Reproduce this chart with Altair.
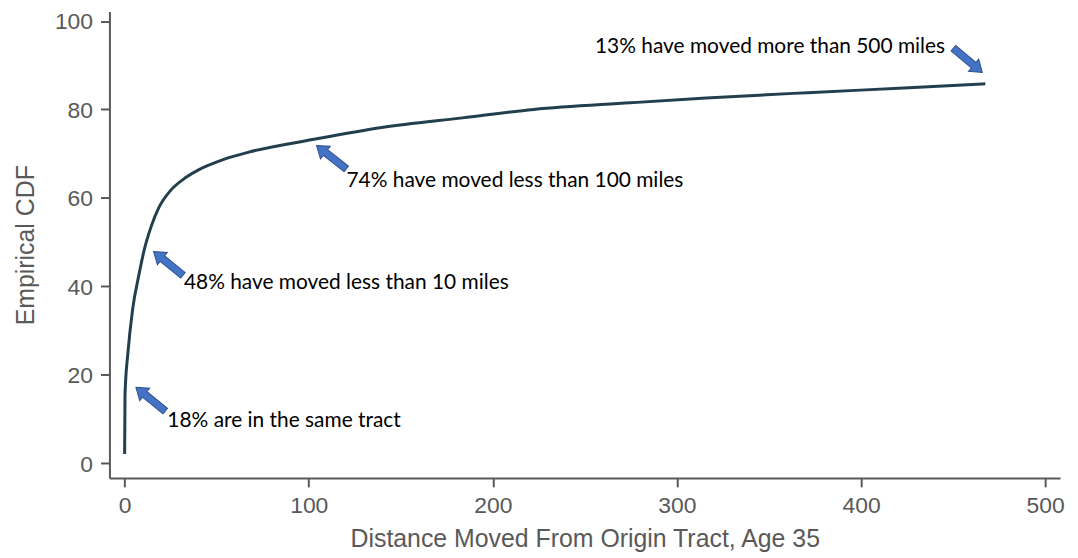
import altair as alt
import pandas as pd

# CDF curve
distance = [0, 0.2, 0.5, 1.6, 4.3, 7.9, 10.6, 14.3, 18.7, 25, 33.2, 40.4, 45.7, 55, 67.9,
            103.7, 139.6, 183.6, 222.2, 274.6, 315.9, 371, 426, 467.5]
cdf = [2.1, 15.2, 18.3, 24.2, 34.7, 42.9, 48.2, 53.4, 57.9, 61.7, 64.6, 66.4, 67.4, 68.9, 70.4,
       73.3, 75.9, 78.1, 80.0, 81.5, 82.6, 83.8, 84.9, 85.8]

# annotations
note_text = ["18% are in the same tract", "48% have moved less than 10 miles",
             "74% have moved less than 100 miles", "13% have moved more than 500 miles"]
note_x = [23.2, 32.2, 120.5, 255.5]
note_y = [8.3, 39.3, 62.4, 92.8]

arrow_x = [14.1, 23.7, 112.3, 458.0]
arrow_y = [14.5, 45.2, 69.2, 91.1]
arrow_angle = [219, 219, 218, 40]

x_ticks = [0, 100, 200, 300, 400, 500]
y_ticks = [0, 20, 40, 60, 80, 100]

curve_df = pd.DataFrame({"x": distance, "y": cdf})
note_df = pd.DataFrame({"x": note_x, "y": note_y, "t": note_text})
arrow_df = pd.DataFrame({"x": arrow_x, "y": arrow_y, "a": arrow_angle})

xs = alt.Scale(domain=[-8.26, 508.1], nice=False, zero=False)
ys = alt.Scale(domain=[-3.30, 102.14], nice=False, zero=False)

AX = dict(grid=False, domainColor="#595959", domainWidth=2, tickColor="#595959",
          tickWidth=2, tickSize=9, labelColor="#595959", titleColor="#595959",
          labelFont="Liberation Sans", titleFont="Liberation Sans",
          labelFontSize=23, titleFontSize=25, titleFontWeight="normal")

line = alt.Chart(curve_df).mark_line(color="#213f4c", strokeWidth=3, interpolate="monotone").encode(
    x=alt.X("x:Q", scale=xs,
            axis=alt.Axis(values=x_ticks, title="Distance Moved From Origin Tract, Age 35",
                          labelPadding=8, titlePadding=9, **AX)),
    y=alt.Y("y:Q", scale=ys,
            axis=alt.Axis(values=y_ticks, title="Empirical CDF", labelPadding=8,
                          labelOffset=1, titlePadding=16, **AX)),
)

arrow_path = "M-1,-0.19L0.4,-0.19L0.4,-0.42L1,0L0.4,0.42L0.4,0.19L-1,0.19Z"
arrows = alt.Chart(arrow_df).mark_point(
    shape=arrow_path, size=1444, filled=True, fill="#4472C4", stroke="#2F528F",
    strokeWidth=1, opacity=1
).encode(
    x=alt.X("x:Q", scale=xs),
    y=alt.Y("y:Q", scale=ys),
    angle=alt.Angle("a:Q", scale=None),
)

notes = alt.Chart(note_df).mark_text(
    align="left", baseline="alphabetic", font="Lato", fontSize=21, color="#000000"
).encode(
    x=alt.X("x:Q", scale=xs),
    y=alt.Y("y:Q", scale=ys),
    text="t:N",
)

chart = alt.layer(line, arrows, notes).properties(
    width=956, height=469,
    autosize=alt.AutoSizeParams(type="none"),
    padding={"left": 102, "top": 2, "right": 10, "bottom": 78},
).configure_view(strokeWidth=0)

chart.save("out.html", embed_options={"renderer": "svg", "actions": False})
